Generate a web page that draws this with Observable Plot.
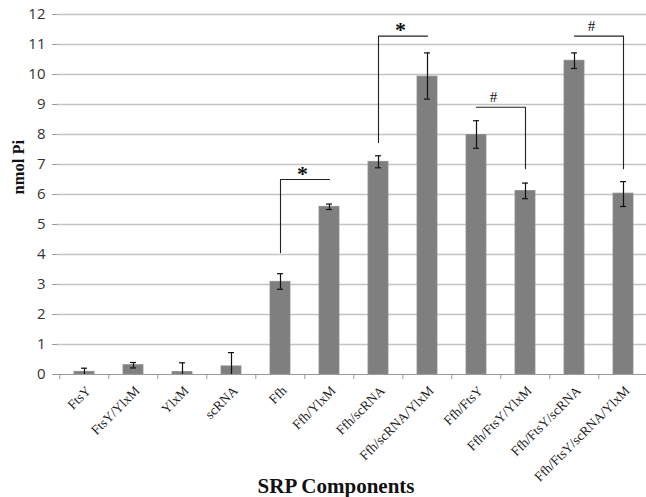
<!DOCTYPE html>
<html>
<head>
<meta charset="utf-8">
<script src="https://cdn.jsdelivr.net/npm/d3@7"></script>
<script src="https://cdn.jsdelivr.net/npm/@observablehq/plot@0.6"></script>
<style>
  html, body { margin: 0; padding: 0; background: #fff; overflow: hidden; }
  #chart svg { display: block; }
</style>
</head>
<body>
<div id="chart"></div>
<script>
const categories = ["FtsY","FtsY/YlxM","YlxM","scRNA","Ffh","Ffh/YlxM","Ffh/scRNA","Ffh/scRNA/YlxM","Ffh/FtsY","Ffh/FtsY/YlxM","Ffh/FtsY/scRNA","Ffh/FtsY/scRNA/YlxM"];
const means   = [0.09, 0.31, 0.08, 0.27, 3.09, 5.59, 7.09, 9.93, 7.98, 6.12, 10.46, 6.03];
const errLow  = [-0.03, 0.22, -0.23, -0.18, 2.84, 5.50, 6.89, 9.18, 7.54, 5.86, 10.20, 5.60];
const errHigh = [0.21, 0.40, 0.39, 0.73, 3.36, 5.68, 7.29, 10.72, 8.46, 6.38, 10.72, 6.43];
const yTicks = [0,1,2,3,4,5,6,7,8,9,10,11,12];

// significance brackets
const bracketId = ["a","a","a","b","b","b","c","c","c","d","d","d"];
const bracketX  = ["Ffh","Ffh","Ffh/YlxM","Ffh/scRNA","Ffh/scRNA","Ffh/scRNA/YlxM","Ffh/FtsY","Ffh/FtsY/YlxM","Ffh/FtsY/YlxM","Ffh/FtsY/scRNA","Ffh/FtsY/scRNA/YlxM","Ffh/FtsY/scRNA/YlxM"];
const bracketY  = [4.06, 6.5, 6.5, 7.73, 11.28, 11.28, 8.91, 8.91, 6.86, 11.28, 11.28, 6.86];
const starX = ["Ffh","Ffh/scRNA"];
const starY = [6.5, 11.28];
const hashX = ["Ffh/FtsY","Ffh/FtsY/scRNA"];
const hashY = [8.91, 11.28];

const bars = categories.map((c, i) => ({cat: c, v: means[i], lo: errLow[i], hi: errHigh[i]}));
const brackets = bracketX.map((c, i) => ({id: bracketId[i], cat: c, y: bracketY[i]}));
const stars = starX.map((c, i) => ({cat: c, y: starY[i]}));
const hashes = hashX.map((c, i) => ({cat: c, y: hashY[i]}));

const W = 646, H = 497;
const step = 49.4;
const x0 = 57.3;

const chart = Plot.plot({
  width: W,
  height: H,
  marginLeft: 57,
  marginRight: 0,
  marginTop: 14,
  marginBottom: H - 374,
  style: {background: "#fff", overflow: "hidden"},
  x: {type: "band", domain: categories, range: [x0, x0 + step * categories.length], paddingInner: 0.6, paddingOuter: 0.3, align: 0.5},
  y: {domain: [0, 12], ticks: yTicks},
  marks: [
    Plot.ruleY(yTicks.filter(d => d > 0), {stroke: "#c4c4c4", strokeWidth: 1.3}),
    Plot.barY(bars, {x: "cat", y: "v", fill: "#7f7f7f", stroke: "#8c8c8c", strokeWidth: 0.8}),
    Plot.ruleX(bars, {x: "cat", y1: "lo", y2: "hi", stroke: "#111", strokeWidth: 1.2, clip: true}),
    Plot.tickY(bars, {x: "cat", y: "lo", stroke: "#111", strokeWidth: 1.2, insetLeft: 7, insetRight: 7, clip: true}),
    Plot.tickY(bars, {x: "cat", y: "hi", stroke: "#111", strokeWidth: 1.2, insetLeft: 7, insetRight: 7}),
    Plot.line(brackets, {x: "cat", y: "y", z: "id", stroke: "#222", strokeWidth: 1.1}),
    Plot.text(stars, {x: "cat", y: "y", text: () => "*", dx: 22, dy: -6, fontSize: 22, fontWeight: "bold", fontFamily: "Liberation Serif", fill: "#111"}),
    Plot.text(hashes, {x: "cat", y: "y", text: () => "#", dx: 17, dy: -10, fontSize: 15, fontFamily: "Liberation Serif", fill: "#111"}),
    // axis lines
    Plot.ruleY([0], {stroke: "#999", strokeWidth: 1.2}),
    Plot.ruleX([0], {frameAnchor: "left", stroke: "#999", strokeWidth: 1.2}),
    // y axis
    Plot.axisY({ticks: yTicks, tickSize: 5, tickPadding: 7, stroke: "#999", fontSize: 15, fontFamily: "Open Sans", fill: "#333", label: null}),
    // x axis ticks at band boundaries
    Plot.axisX({tickSize: 5, dx: -step / 2, stroke: "#999", text: null, label: null}),
    // x axis labels
    Plot.axisX({tickSize: 0, tickRotate: -45, tickPadding: 10, dx: 4, dy: 4, fontSize: 13.5, fontFamily: "Liberation Serif", fill: "#222", label: null}),
    Plot.text(["nmol Pi"], {frameAnchor: "left", rotate: -90, dx: -39, fontSize: 16.5, fontWeight: "bold", fontFamily: "Liberation Serif", fill: "#111"}),
    Plot.text(["SRP Components"], {frameAnchor: "bottom", dx: -16, dy: 118, fontSize: 21, fontWeight: "bold", fontFamily: "Liberation Serif", fill: "#111"})
  ]
});
document.getElementById("chart").appendChild(chart);
</script>
</body>
</html>
